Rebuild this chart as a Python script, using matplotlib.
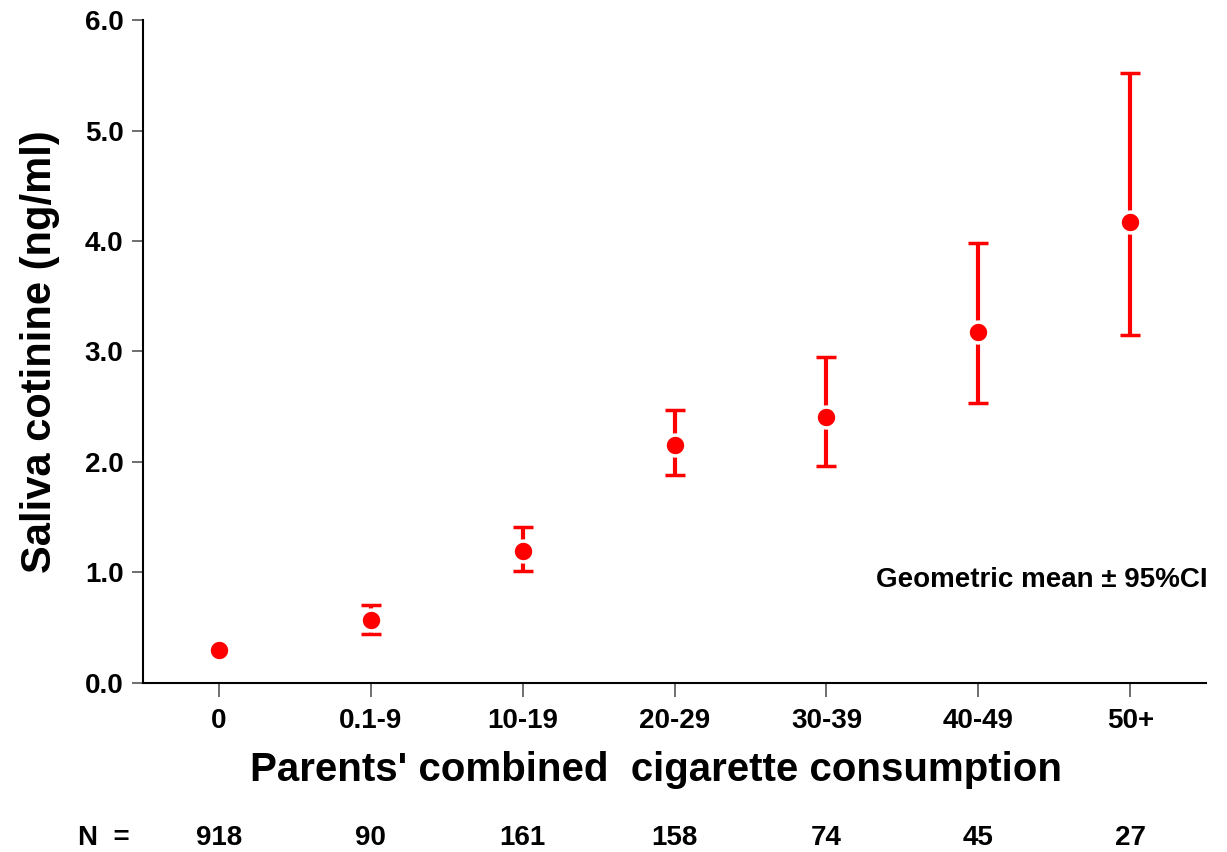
import matplotlib
matplotlib.use("Agg")
import matplotlib.pyplot as plt
import matplotlib.transforms as mtransforms

# data
categories = ['0', '0.1-9', '10-19', '20-29', '30-39', '40-49', '50+']
geo_mean = [0.30, 0.57, 1.19, 2.15, 2.41, 3.18, 4.17]
ci_low = [0.29, 0.44, 1.01, 1.88, 1.96, 2.53, 3.15]
ci_high = [0.31, 0.71, 1.41, 2.47, 2.95, 3.98, 5.52]
n_counts = ['918', '90', '161', '158', '74', '45', '27']
yticks = [0.0, 1.0, 2.0, 3.0, 4.0, 5.0, 6.0]

plt.rcParams['font.family'] = ['Liberation Sans', 'DejaVu Sans']
plt.rcParams['font.weight'] = 'bold'

fig = plt.figure(figsize=(12.27, 8.52), dpi=100)
ax = fig.add_axes([0.1165, 0.1984, 0.8665, 0.7781])

x = list(range(len(categories)))
err_lo = [m - l for m, l in zip(geo_mean, ci_low)]
err_hi = [h - m for m, h in zip(geo_mean, ci_high)]
ax.errorbar(x, geo_mean, yerr=[err_lo, err_hi], fmt='o', color='red',
            ecolor='red', elinewidth=3, capsize=7, capthick=3,
            markersize=15, markeredgecolor='white', markeredgewidth=2.5)

ax.set_xlim(-0.5, 6.5)
ax.set_ylim(0, 6)
ax.set_xticks(x)
ax.set_xticklabels(categories)
ax.set_yticks(yticks)
ax.set_yticklabels(['%.1f' % v for v in yticks])

for s in ['top', 'right']:
    ax.spines[s].set_visible(False)
for s in ['left', 'bottom']:
    ax.spines[s].set_linewidth(1.5)

ax.tick_params(axis='y', direction='out', length=8, width=1.2, color='#555555',
               labelsize=20, pad=6)
ax.tick_params(axis='x', direction='out', length=10, width=1.2, color='#555555',
               labelsize=20, pad=8)
for lab in ax.get_xticklabels() + ax.get_yticklabels():
    lab.set_fontweight('bold')

ax.set_ylabel('Saliva cotinine (ng/ml)', fontsize=30, fontweight='bold', labelpad=18)
ax.set_xlabel("Parents' combined  cigarette consumption", fontsize=29,
              fontweight='bold', labelpad=12)
ax.xaxis.label.set_x(0.483)

ax.text(6.51, 0.93, 'Geometric mean \u00b1 95%CI', ha='right', va='center',
        fontsize=20, fontweight='bold')

trans = mtransforms.blended_transform_factory(ax.transData, fig.transFigure)
for xi, n in zip(x, n_counts):
    ax.text(xi, 0.016, n, transform=trans, ha='center', va='center',
            fontsize=20, fontweight='bold')
fig.text(0.0636, 0.016, 'N  =', ha='left', va='center', fontsize=20,
         fontweight='bold')

fig.savefig('out.png', dpi=100)
